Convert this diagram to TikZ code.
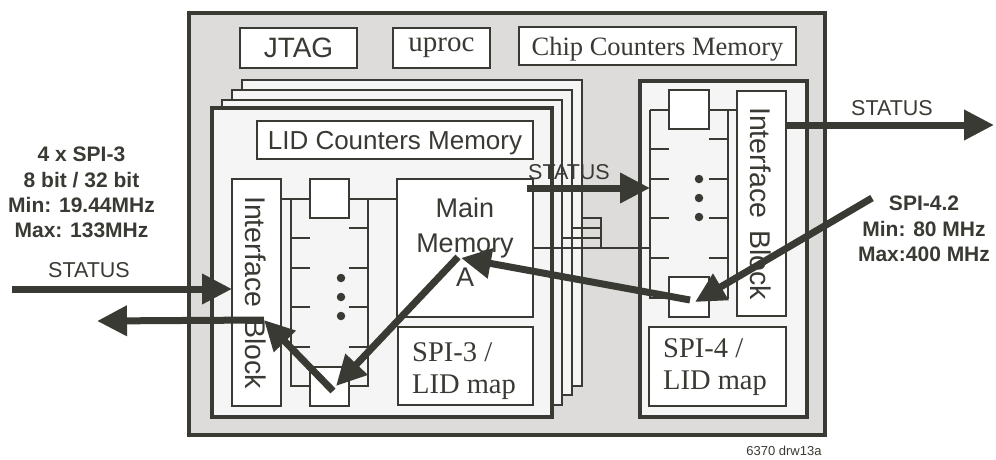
\documentclass[tikz,border=0pt]{standalone}
\usepackage{fontspec}
\setmainfont{Liberation Sans}
\newfontfamily\seriffont{Liberation Serif}
\usetikzlibrary{arrows.meta}
\definecolor{ink}{RGB}{58,58,52}
\definecolor{chipgray}{RGB}{221,220,218}
\definecolor{cardfill}{RGB}{244,245,244}
\tikzset{
  boxw/.style={draw=ink, fill=white, line width=2pt, inner sep=0pt, outer sep=0pt, anchor=north west, text=ink},
  card/.style={draw=ink, fill=cardfill, line width=2pt, inner sep=0pt, outer sep=0pt, anchor=north west},
  heavy/.style={draw=ink, line width=4.5pt, inner sep=0pt, outer sep=0pt, anchor=north west},
  thinline/.style={draw=ink, line width=2pt},
  bigarrow/.style={draw=ink, line width=7pt, -{Triangle[length=30pt,width=29pt]}},
  sanslbl/.style={text=ink, font=\fontsize{21.5}{24}\selectfont, inner sep=0pt, anchor=base},
  boldlbl/.style={text=ink, font=\fontsize{21}{25.3}\selectfont\bfseries, inner sep=0pt, align=center, anchor=north},
  vtext/.style={rotate=-90, text=ink, font=\fontsize{28.5}{30}\selectfont, inner sep=0pt},
  sertext/.style={text=ink, font=\seriffont\fontsize{28.5}{32.5}\selectfont, align=left, anchor=north west, inner sep=0pt},
  dotc/.style={circle, fill=ink, draw=none, inner sep=0pt, minimum size=8.5pt},
}
\begin{document}
\begin{tikzpicture}[x=1pt,y=-1pt]
\useasboundingbox (0,0) rectangle (996,459);

% chip outline
\node[heavy, fill=chipgray, minimum width=636pt, minimum height=422pt] (chip) at (189,13) {};

% top row
\node[boxw, minimum width=117pt, minimum height=40pt, font=\fontsize{28}{30}\selectfont] (jtag) at (240,28) {JTAG};
\node[boxw, minimum width=97pt, minimum height=40pt, font=\seriffont\fontsize{29}{30}\selectfont] (uproc) at (393,28) {uproc};
\node[boxw, minimum width=277pt, minimum height=38pt, text depth=0pt, font=\seriffont\fontsize{26.5}{28}\selectfont] (ccm) at (519,27) {Chip Counters Memory};

% stacked cards
\node[card, minimum width=340pt, minimum height=306pt] (card4) at (242,80) {};
\node[card, minimum width=340pt, minimum height=305pt] (card3) at (232,90) {};
\node[card, minimum width=340pt, minimum height=305pt] (card2) at (222,100) {};
\node[card, line width=4.5pt, minimum width=340pt, minimum height=309pt] (card1) at (212,108) {};

% front card contents
\node[boxw, minimum width=276pt, minimum height=38pt, text depth=0pt, font=\fontsize{26}{28}\selectfont] (lcm) at (257,121) {LID Counters Memory};
\node[boxw, minimum width=49pt, minimum height=227pt] (ifl) at (232,179) {};
\node[vtext] (ifltxt) at ([xshift=-1pt]ifl.center) {Interface\hspace{12pt}Block};

% left ladder
\draw[thinline] (291,198) -- (291,386) -- (368,386) -- (368,198);
\foreach \yy in {238,268,307,347} \draw[thinline] (291,\yy) -- (310,\yy);
\foreach \yy in {228,268,307,347} \draw[thinline] (349,\yy) -- (368,\yy);
\node[dotc] (dl1) at (341,278) {};
\node[dotc] (dl2) at (341,297) {};
\node[dotc] (dl3) at (341,316) {};
\node[boxw, minimum width=39pt, minimum height=39pt] (tbL) at (310,179) {};
\node[boxw, minimum width=39pt, minimum height=39pt] (bbL) at (310,367) {};
\node[boxw, minimum width=136pt, minimum height=138pt] (mm) at (397,179) {};
\draw[thinline] (ifl.east |- tbL.west) -- (tbL.west);
\draw[thinline] (tbL.east) -- (mm.west |- tbL.east);
\node[text=ink, font=\fontsize{27}{34.5}\selectfont, align=center, anchor=north, inner sep=0pt] (mmtxt) at (465,198) {Main\\Memory\\A};
\node[boxw, minimum width=135pt, minimum height=78pt] (spi3) at (398,327) {};
\node[sertext] (spi3txt) at (412,342) {SPI-3 /\\LID map};

% right block
\node[heavy, line width=4.5pt, fill=cardfill, minimum width=167pt, minimum height=336pt] (rblk) at (640,81) {};
\node[boxw, minimum width=49pt, minimum height=225pt] (ifr) at (737,91) {};
\node[vtext] (ifrtxt) at ([xshift=-1pt]ifr.center) {Interface\hspace{12pt}Block};
\draw[thinline] (650,110) -- (650,298) -- (728,298) -- (728,110);
\foreach \yy in {149,179,218,258} \draw[thinline] (650,\yy) -- (669,\yy);
\foreach \yy in {139,179,218,258} \draw[thinline] (709,\yy) -- (728,\yy);
\node[dotc] (dr1) at (699,179) {};
\node[dotc] (dr2) at (699,198) {};
\node[dotc] (dr3) at (699,217) {};
\node[boxw, minimum width=40pt, minimum height=39pt] (tbR) at (669,90) {};
\node[boxw, minimum width=40pt, minimum height=40pt] (bbR) at (669,277) {};
\coordinate (ladRtl) at (650,110);
\draw[thinline] (ladRtl) -- (tbR.west |- ladRtl);
\draw[thinline] (tbR.east |- ladRtl) -- (ifr.west |- ladRtl);
\node[boxw, minimum width=137pt, minimum height=79pt] (spi4) at (649,327) {};
\node[sertext] (spi4txt) at (663,338) {SPI-4 /\\LID map};

% bus between cards and right block
\coordinate (bus) at (601,248);
\coordinate (b4) at (601,218);
\coordinate (b3) at (601,228);
\coordinate (b2) at (601,238);
\draw[thinline] (card4.east |- b4) -- (b4) -- (bus);
\draw[thinline] (card3.east |- b3) -- (b3);
\draw[thinline] (card2.east |- b2) -- (b2);
\draw[thinline] (mm.east |- bus) -- (ladRtl |- bus);

% labels
\node[sanslbl] (stL) at (89,277) {STATUS};
\node[sanslbl] (stM) at (569,179) {STATUS};
\node[sanslbl] (stR) at (892,115) {STATUS};
\node[boldlbl] (spi3lbl) at (81.5,147) {4 x SPI-3\\8 bit / 32 bit\\Min: 19.44MHz\\Max: 133MHz};
\node[boldlbl] (spi4lbl) at (924,196) {SPI-4.2\\Min: 80 MHz\\Max:400 MHz};
\node[text=ink, font=\fontsize{13}{15}\selectfont, anchor=base, inner sep=0pt] (drw) at (784,455) {6370 drw13a};

% arrows
\coordinate (inS) at (12,289);
\coordinate (outS) at (97,321);
\coordinate (vL) at (264,320);
\coordinate (vB) at (333,391);
\coordinate (vBt) at (336,386);
\coordinate (mA) at (458,257);
\coordinate (mAt) at (461,258);
\coordinate (rB) at (690,300);
\coordinate (spi42) at (872,198);
\coordinate (rBt) at (695,302);
\coordinate (outR) at (994,125);
\coordinate (midS) at (527,188);

\draw[bigarrow] (inS) -- (ifl.west |- inS);
\draw[bigarrow] (vL) -- (outS);
\draw[bigarrow] (vB) -- (vL);
\draw[bigarrow] (mA) -- (vBt);
\draw[bigarrow] (rB) -- (mAt);
\draw[bigarrow] (spi42) -- (rBt);
\draw[bigarrow] (ifr.east |- outR) -- (outR);
\draw[bigarrow] (midS) -- (ladRtl |- midS);
\end{tikzpicture}
\end{document}
